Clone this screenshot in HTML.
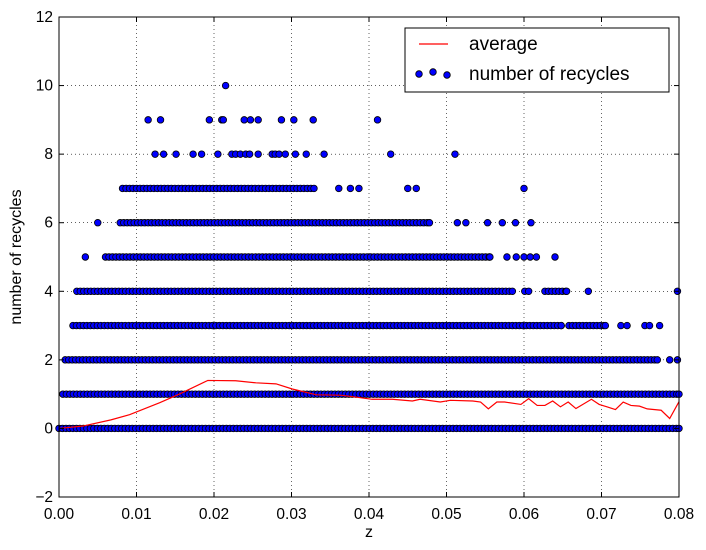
<!DOCTYPE html>
<html><head><meta charset="utf-8"><style>
body{margin:0;background:#fff;}
svg{display:block;font-family:"Liberation Sans","DejaVu Sans",sans-serif;}
</style></head><body>
<svg id="chart" width="706" height="550" viewBox="0 0 706 550" xmlns="http://www.w3.org/2000/svg">
<rect x="0" y="0" width="706" height="550" fill="#fff"/>
<g id="grid"></g>
<g id="scatter"></g>
<g id="avg"></g>
<rect x="59" y="17" width="620" height="480" fill="none" stroke="#000" stroke-width="1"/>
<g id="ticks"></g>
<text x="369" y="537" font-size="16" text-anchor="middle">z</text>
<text x="21" y="257" font-size="16" text-anchor="middle" transform="rotate(-90 21 257)">number of recycles</text>
<g>
<rect x="405" y="28" width="264" height="64" fill="#fff" stroke="#000" stroke-width="1"/>
<line x1="419" y1="44" x2="448" y2="44" stroke="#f00" stroke-width="1.2"/>
<text x="469" y="50" font-size="19">average</text>
<circle cx="419" cy="74" r="3.3" fill="#00f" stroke="#000" stroke-width="0.8"/>
<circle cx="433" cy="72" r="3.3" fill="#00f" stroke="#000" stroke-width="0.8"/>
<circle cx="447" cy="75" r="3.3" fill="#00f" stroke="#000" stroke-width="0.8"/>
<text x="469" y="80" font-size="19">number of recycles</text>
</g>
</svg>
<script>
// x values in thousandths of z
const xTicks = [0,10,20,30,40,50,60,70,80];
const xTickLabels = ["0.00","0.01","0.02","0.03","0.04","0.05","0.06","0.07","0.08"];
const yTicks = [-2,0,2,4,6,8,10,12];
const yTickLabels = ["\u22122","0","2","4","6","8","10","12"];
// dense runs [start,end] per level
const runs0 = [[0,80]];
const runs1 = [[0.5,80]];
const runs2 = [[0.8,77.2]];
const runs3 = [[1.8,64.8],[65.8,70.5]];
const runs4 = [[2.3,58.5],[62.7,65.5]];
const runs5 = [[6.0,55.6]];
const runs6 = [[7.9,47.8]];
const runs7 = [[8.2,32.9]];
// isolated points per level
const pts2 = [78.8,79.8];
const pts3 = [72.5,73.3,75.6,76.2,77.5];
const pts4 = [60.1,60.6,68.3,79.8];
const pts5 = [3.4,57.8,59,60,60.8,61.6,64.0];
const pts6 = [5.0,51.4,52.5,55.3,57.2,58.9,60.9];
const pts7 = [36.1,37.6,38.7,45.0,46.1,60.0];
const pts8 = [12.4,13.5,15.1,17.3,18.4,20.5,22.3,22.8,23.4,24.1,24.6,25.7,27.5,27.9,28.4,29.2,30.5,31.9,34.2,42.8,51.1];
const pts9 = [11.5,13.1,19.4,21.0,21.2,23.9,24.7,25.7,28.7,30.3,32.8,41.1];
const pts10 = [21.5];
// average line
const avgX = [0,3.1,6.7,9.1,13.0,15.5,19.2,22.8,25.4,28.0,30.1,33.2,36.3,37.8,40.4,43.0,45.6,46.6,49.2,50.5,53.4,54.4,55.4,56.5,57.5,59.6,60.6,61.7,62.7,63.7,64.7,65.7,66.7,68.7,69.7,70.7,71.8,72.8,73.8,74.9,75.9,77.7,78.8,80.0];
const avgY = [0,0.07,0.25,0.40,0.75,1.0,1.40,1.39,1.33,1.30,1.15,0.98,0.97,0.93,0.85,0.85,0.80,0.85,0.77,0.82,0.80,0.77,0.57,0.77,0.77,0.70,0.87,0.67,0.67,0.80,0.63,0.77,0.58,0.85,0.70,0.63,0.55,0.77,0.67,0.65,0.57,0.53,0.29,0.78];

const NS = "http://www.w3.org/2000/svg";
const X = v => 59 + v * 620 / 80;
const Y = v => 497 - (v + 2) * 480 / 14;
function mk(tag, attrs, parent){const e=document.createElementNS(NS,tag);for(const k in attrs)e.setAttribute(k,attrs[k]);parent.appendChild(e);return e;}
const grid=document.getElementById('grid'), ticks=document.getElementById('ticks');
xTicks.forEach((t,i)=>{
  if(i>0&&i<xTicks.length-1){const g=mk('line',{x1:X(t),x2:X(t),y1:17,y2:497,stroke:'#000','stroke-width':0.6,'stroke-dasharray':'1,3'},grid);
  
  }
  const a=mk('line',{x1:X(t),x2:X(t),y1:497,y2:492,stroke:'#000'},ticks);
  
  
  const b=mk('line',{x1:X(t),x2:X(t),y1:17,y2:22,stroke:'#000'},ticks);
  
  
  const tx=mk('text',{x:X(t),y:519,'font-size':15.5,'text-anchor':'middle'},ticks);tx.textContent=xTickLabels[i];
  
  
});
yTicks.forEach((t,i)=>{
  if(i>0&&i<yTicks.length-1){const g=mk('line',{x1:59,x2:679,y1:Y(t),y2:Y(t),stroke:'#000','stroke-width':0.6,'stroke-dasharray':'1,3'},grid);
  
  }
  const a=mk('line',{x1:59,x2:64,y1:Y(t),y2:Y(t),stroke:'#000'},ticks);
  
  
  const b=mk('line',{x1:674,x2:679,y1:Y(t),y2:Y(t),stroke:'#000'},ticks);
  
  
  const tx=mk('text',{x:53,y:Y(t)+5,'font-size':15.5,'text-anchor':'end'},ticks);tx.textContent=yTickLabels[i];
  
  
});
const sc=document.getElementById('scatter');
function dot(x,lvl){const c=mk('circle',{cx:X(x),cy:Y(lvl),r:3.3,fill:'#00f',stroke:'#000','stroke-width':0.8},sc);
  
  }
const allRuns=[runs0,runs1,runs2,runs3,runs4,runs5,runs6,runs7];
allRuns.forEach((rs,lvl)=>rs.forEach(r=>{for(let x=r[0];x<=r[1]+1e-9;x+=0.45)dot(x,lvl);dot(r[1],lvl);}));
const allPts=[[],[],pts2,pts3,pts4,pts5,pts6,pts7,pts8,pts9,pts10];
allPts.forEach((ps,lvl)=>ps.forEach(x=>dot(x,lvl)));
const avg=document.getElementById('avg');
const p=mk('polyline',{points:avgX.map((x,i)=>X(x)+','+Y(avgY[i])).join(' '),fill:'none',stroke:'#f00','stroke-width':1.2},avg);


</script>
</body></html>
